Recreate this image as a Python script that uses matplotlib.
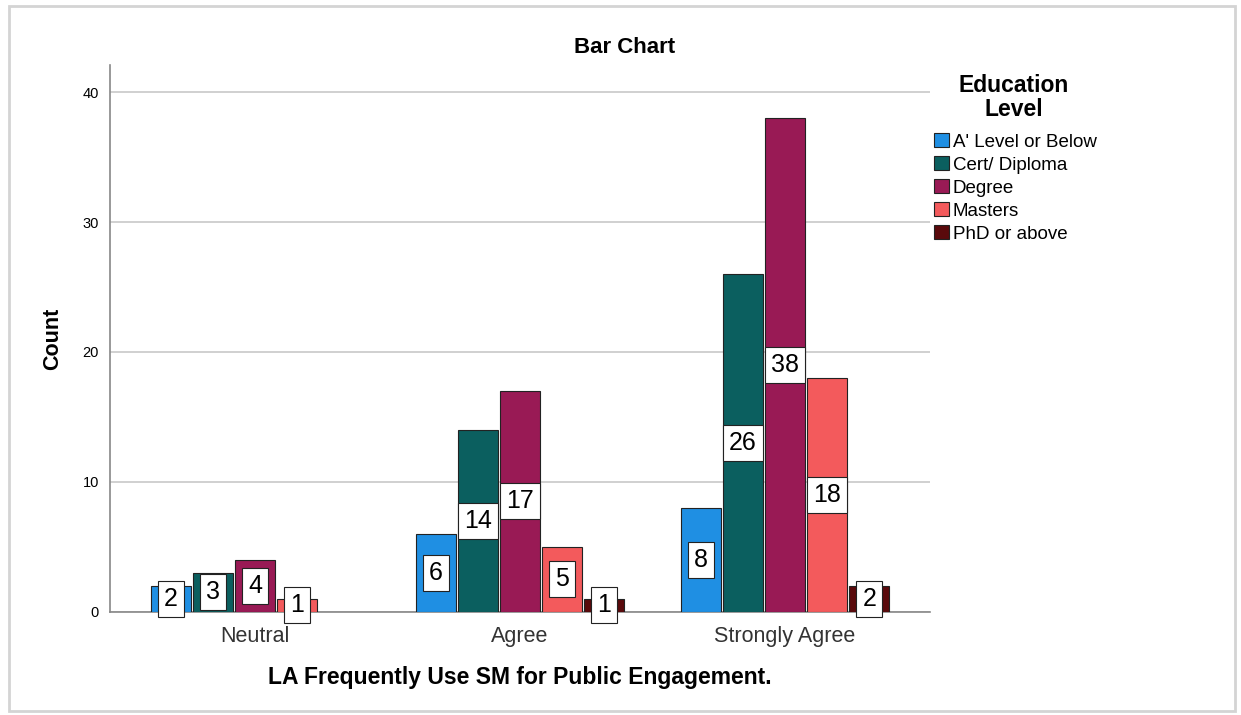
import numpy as np
import matplotlib.pyplot as plt
from matplotlib.patches import Rectangle, Patch

plt.rcParams['font.family'] = ['Liberation Sans', 'DejaVu Sans']

# Counts per response category and education level
categories = ['Neutral', 'Agree', 'Strongly Agree']
levels = ["A' Level or Below", 'Cert/ Diploma', 'Degree', 'Masters', 'PhD or above']
counts = {
    "A' Level or Below": [2, 6, 8],
    'Cert/ Diploma': [3, 14, 26],
    'Degree': [4, 17, 38],
    'Masters': [1, 5, 18],
    'PhD or above': [0, 1, 2],
}
colors = ['#1f8fe3', '#0b5f5f', '#991a55', '#f35a5c', '#5a0a0c']

fig = plt.figure(figsize=(12.41, 7.15), dpi=100)
ax = fig.add_axes([0.0886, 0.1441, 0.6608, 0.765])

# outer frame
fig.patches.append(Rectangle((0.007, 0.006), 0.988, 0.985, transform=fig.transFigure,
                             fill=False, edgecolor='#d4d4d4', linewidth=2))

x = np.arange(len(categories))
slot = 0.159
width = 0.150
for i, lev in enumerate(levels):
    vals = counts[lev]
    pos = x + (i - 2) * slot
    for xp, v in zip(pos, vals):
        if v == 0:
            continue
        ax.bar(xp, v, width=width, color=colors[i], edgecolor='#222222', linewidth=0.8, zorder=3)
        ax.text(xp, v / 2, str(v), ha='center', va='center', fontsize=18, zorder=4,
                bbox=dict(boxstyle='square,pad=0.24', facecolor='white', edgecolor='#222222',
                          linewidth=0.8))

ax.set_xlim(-0.547, 2.547)
ax.set_ylim(0, 42.08)
ax.set_yticks([0, 10, 20, 30, 40])
ax.yaxis.grid(True, color='#c8c8c8', linewidth=1.2, zorder=0)
ax.set_axisbelow(True)
ax.set_xticks(x)
ax.set_xticklabels(categories, fontsize=15.5, color='#333333')
ax.tick_params(axis='both', length=0)
ax.tick_params(axis='y', labelsize=10.5, pad=8)
ax.tick_params(axis='x', pad=10)

for side in ['top', 'right']:
    ax.spines[side].set_visible(False)
for side in ['left', 'bottom']:
    ax.spines[side].set_color('#888888')
    ax.spines[side].set_linewidth(1.2)

ax.set_ylabel('Count', fontsize=15.5, fontweight='bold', labelpad=14)
ax.set_xlabel('LA Frequently Use SM for Public Engagement.', fontsize=16.5, fontweight='bold', labelpad=14)
fig.text(0.503, 0.934, 'Bar Chart', ha='center', va='center', fontsize=16, fontweight='bold')

# legend title drawn separately so it can sit a bit higher above the entries
fig.text(0.817, 0.864, 'Education\nLevel', ha='center', va='center', fontsize=16.5,
         fontweight='bold', linespacing=1.05)
handles = [Patch(facecolor=c, edgecolor='#222222', linewidth=0.8) for c in colors]
leg = fig.legend(handles, levels, loc='upper left', bbox_to_anchor=(0.745, 0.827),
                 frameon=False, fontsize=13.5, borderpad=0,
                 handlelength=0.8, handleheight=0.8, handletextpad=0.2, labelspacing=0.28)

fig.savefig('out.png', dpi=100)
